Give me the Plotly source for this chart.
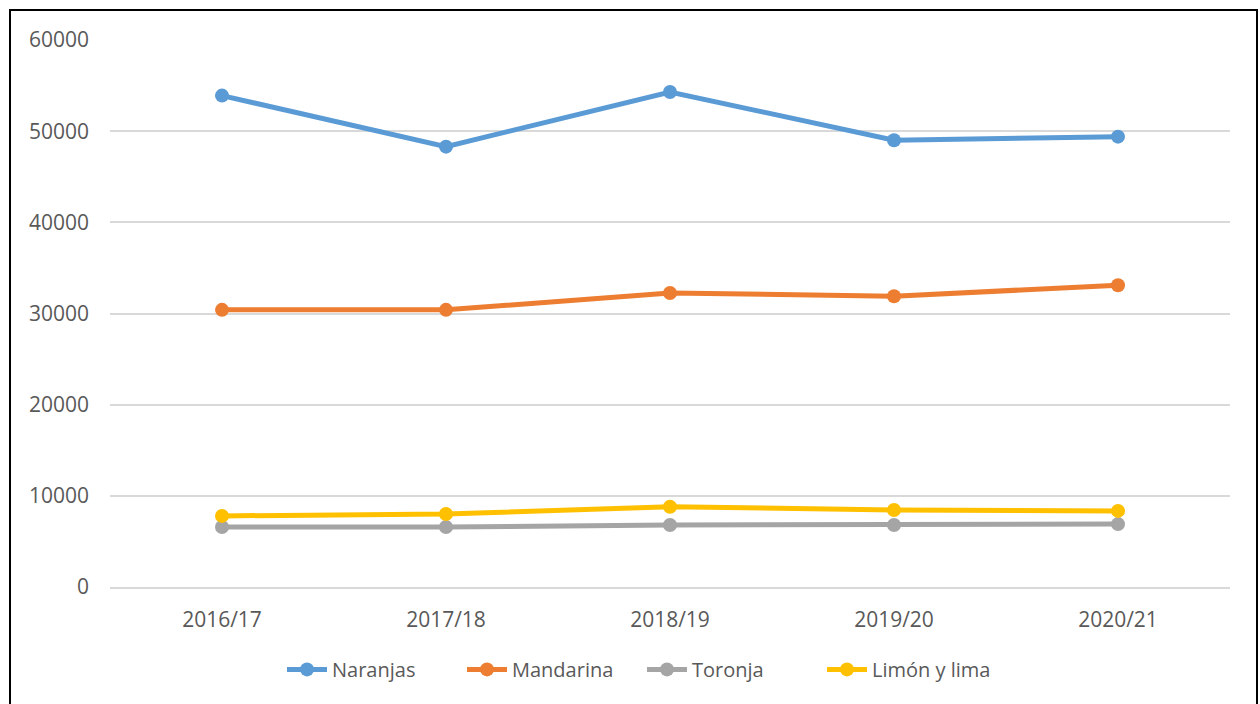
import plotly.graph_objects as go

categories = ["2016/17", "2017/18", "2018/19", "2019/20", "2020/21"]
naranjas = [53900, 48300, 54300, 49000, 49400]
mandarina = [30400, 30400, 32250, 31900, 33100]
toronja = [6580, 6580, 6800, 6800, 6900]
limon = [7800, 8000, 8800, 8450, 8350]

series = [
    ("Naranjas", naranjas, "#5B9BD5"),
    ("Mandarina", mandarina, "#ED7D31"),
    ("Toronja", toronja, "#A5A5A5"),
    ("Limón y lima", limon, "#FFC000"),
]

fig = go.Figure()
for name, vals, col in series:
    fig.add_trace(go.Scatter(
        x=categories, y=vals, name=name, mode="lines+markers",
        line=dict(color=col, width=5),
        marker=dict(color=col, size=14),
    ))

fig.update_layout(
    width=1260, height=704,
    margin=dict(l=110, r=30, t=40, b=117),
    paper_bgcolor="white", plot_bgcolor="white",
    font=dict(family="Open Sans, Liberation Sans, sans-serif", color="#595959", size=21),
    showlegend=True,
    legend=dict(orientation="h", x=0.475, xanchor="center", y=-0.115, yanchor="top",
                font=dict(size=20, color="#595959"), itemwidth=40, traceorder="normal",
                entrywidth=125, entrywidthmode="pixels"),
    xaxis=dict(type="category", range=[-0.5, 4.5], showgrid=False, showline=True,
               linecolor="#D9D9D9", linewidth=1.5, ticks="", tickfont=dict(size=21),
               ticklabelstandoff=13),
    yaxis=dict(range=[0, 60000], dtick=10000, showgrid=True, gridcolor="#D9D9D9",
               gridwidth=1.5, zeroline=False, ticks="", tickfont=dict(size=21),
               tickformat="d", ticklabelstandoff=20),
    shapes=[dict(type="rect", xref="paper", yref="paper",
                 x0=(10 - 110) / 1120, x1=(1257 - 110) / 1120,
                 y0=-0.3, y1=(587 - 10) / 547,
                 line=dict(color="black", width=2), fillcolor="rgba(0,0,0,0)", layer="below")],
)

fig.write_html("out.html", config={"displayModeBar": False},
               post_script="document.body.style.margin='0';")
